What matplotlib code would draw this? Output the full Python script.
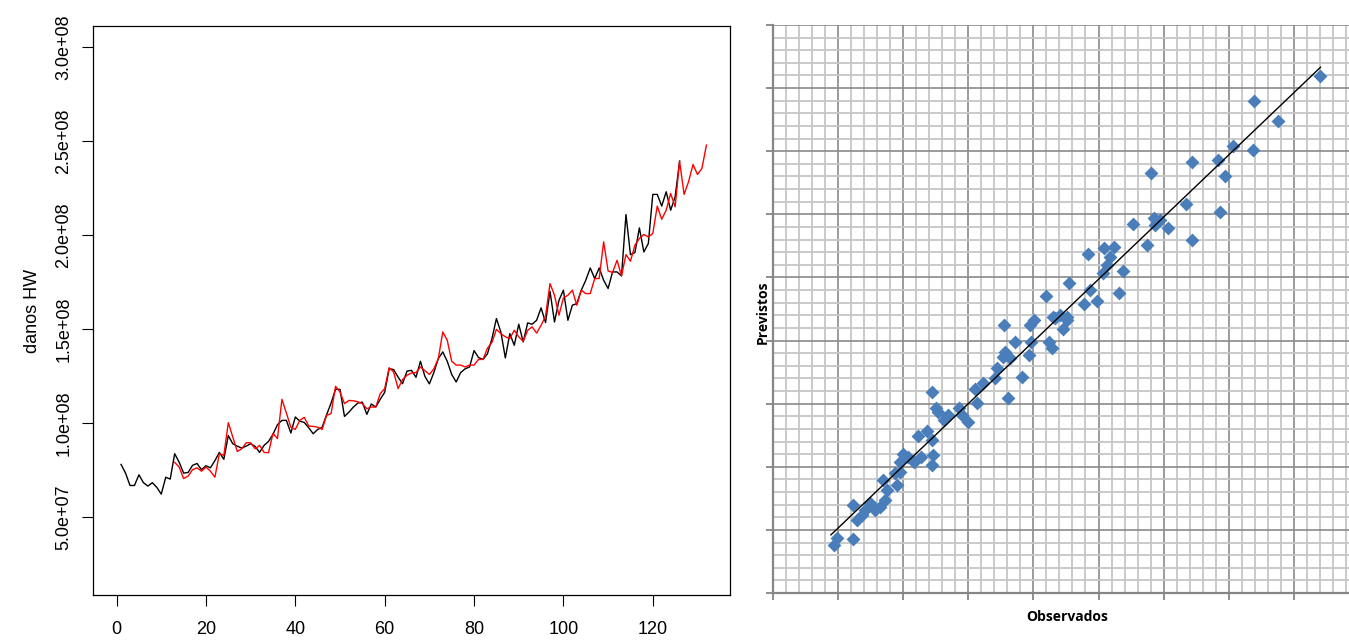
import numpy as np
import matplotlib.pyplot as plt

# serie observada (milhoes), t = 1..126
observado = [78.2, 73.6, 67, 67, 72.7, 68.5, 66.7, 68.5, 66, 62.4, 71.4, 70.4,
             83.9, 79.4, 73.6, 73.9, 77.7, 78.7, 75.4, 77.5, 76.4, 80.2, 84.6, 80.9,
             93.5, 89.2, 87.9, 86.9, 87.9, 89.2, 87.8, 84.6, 88.3, 90.4, 94.2, 99.3,
             101.6, 101.6, 94.9, 103.4, 101.2, 100.5, 97.7, 94.5, 96.8, 97.9, 104.6, 110.8,
             118.1, 118.1, 103.7, 106, 108.7, 110.8, 111.3, 104.8, 110.3, 108.7, 112.8, 116.5,
             129.1, 128.6, 124.6, 121.1, 127.8, 128.2, 124.5, 133, 125, 121, 127, 134.5,
             138, 133, 126, 122, 127, 129, 130, 138.7, 135, 134, 137, 145,
             155.7, 148.6, 134.8, 147.7, 141.5, 152.7, 143.3, 153.4, 152.7, 154.8, 161.4, 153.6,
             170.2, 153.9, 165.4, 170.8, 154.8, 162.8, 163.7, 170.8, 176.1, 182.6, 177, 182.6,
             176.1, 171.7, 180.5, 180.5, 178.4, 211, 189.7, 190.8, 203.9, 191.1, 195.6, 221.7,
             221.7, 215.5, 223.1, 213.3, 220.4, 239.4]

# ajuste Holt-Winters (milhoes), t = 13..132
ajuste_hw = [79.3, 76.8, 70.7, 72, 75.4, 76.4, 74.6, 76.8, 74.6, 71.4, 83.9, 83,
             100.4, 92.8, 85.1, 86.5, 89.7, 89.7, 86.5, 88.3, 84.6, 84.4, 94.7, 91.9,
             112.8, 105.5, 98, 96.8, 101.6, 103.2, 98.6, 98.4, 98, 96.8, 104.3, 105.2,
             119.7, 116.7, 110.5, 112.2, 112, 111.5, 110.5, 107.8, 108.7, 108.7, 115.8, 118.5,
             129.6, 127.3, 118.5, 123.3, 125.6, 126.8, 127, 130, 128, 126, 129, 134.4,
             148.6, 144.2, 133, 131, 131, 130, 131, 131, 134, 134, 140, 143,
             150, 147.7, 146, 145.1, 149.5, 146, 143.6, 149.5, 151.3, 148, 152.1, 157.1,
             174.3, 168.1, 157.5, 166.7, 168.1, 170.8, 162.8, 170.8, 169, 169, 177, 177,
             196.5, 181, 180.2, 186.7, 178.4, 189.7, 186.2, 194.7, 198.3, 200.4, 199.1, 200.9,
             215.5, 208.5, 213.3, 222.2, 215.1, 239.4, 221.7, 228.4, 237.6, 232.3, 235.5, 247.9]

x_ticks = [0, 20, 40, 60, 80, 100, 120]
y_ticks = [5e7, 1e8, 1.5e8, 2e8, 2.5e8, 3e8]

# dispersao observados x previstos (unidades de grade)
obs_x = [0.93, 0.99, 1.23, 1.23, 1.29, 1.36, 1.41, 1.49, 1.57, 1.64, 1.72, 1.69, 1.75, 1.90,
         1.87, 1.95, 2.00, 2.08, 2.16, 2.23, 2.28, 2.36, 2.44, 2.46, 2.44, 2.44, 2.51, 2.54,
         2.62, 2.69, 2.85, 2.90, 3.00, 3.13, 3.10, 3.23, 3.41, 3.44, 3.54, 3.55, 3.72, 3.56,
         3.64, 3.94, 3.96, 3.95, 4.01, 4.20, 4.24, 4.28, 4.33, 4.41, 4.46, 4.52, 4.55, 4.78,
         4.87, 4.98, 4.84, 5.08, 5.24, 5.18, 5.13, 5.07, 5.38, 5.32, 5.53, 5.75, 5.81, 5.85,
         5.94, 6.07, 6.35, 6.43, 6.44, 6.84, 6.95, 6.87, 7.06, 7.38, 7.39, 7.75, 8.41, 5.87,
         1.95, 4.30, 4.51, 3.61, 3.82]
prev_y = [0.76, 0.87, 0.85, 1.39, 1.16, 1.24, 1.32, 1.42, 1.32, 1.37, 1.47, 1.79, 1.63, 1.71,
          1.90, 2.08, 2.21, 2.16, 2.08, 2.48, 2.16, 2.56, 2.42, 2.19, 2.03, 3.19, 2.93, 2.87,
          2.74, 2.82, 2.93, 2.82, 2.71, 3.01, 3.24, 3.32, 3.40, 3.56, 3.74, 4.25, 3.98, 3.82,
          3.72, 3.77, 3.98, 4.25, 4.33, 4.71, 3.98, 3.88, 4.35, 4.41, 4.19, 4.33, 4.91, 4.58,
          4.80, 4.62, 5.37, 5.46, 5.49, 5.33, 5.20, 5.07, 5.10, 4.76, 5.84, 5.52, 6.65, 5.94,
          5.91, 5.78, 6.16, 6.83, 5.59, 6.86, 6.61, 6.03, 7.09, 7.02, 7.79, 7.48, 8.19, 5.83,
          1.92, 4.38, 4.38, 3.09, 3.42]

t_obs = np.arange(1, len(observado) + 1)
t_hw = np.arange(13, 13 + len(ajuste_hw))

fig = plt.figure(figsize=(13.49, 6.41), dpi=100)

# painel esquerdo, estilo R
ax1 = fig.add_axes([93/1349, 1 - 595/641, 637/1349, 569/641])
ax1.plot(t_obs, np.array(observado) * 1e6, color='black', lw=1.0)
ax1.plot(t_hw, np.array(ajuste_hw) * 1e6, color='red', lw=1.0)
ax1.set_xlim(-5.28, 137.28)
ax1.set_ylim(8.8e6, 3.112e8)
ax1.set_xticks(x_ticks)
ax1.set_xticklabels([str(v) for v in x_ticks], fontsize=13, family='Liberation Sans')
ax1.set_yticks(y_ticks)
ax1.set_yticklabels([f'{v:.1e}' for v in y_ticks], fontsize=13, family='Liberation Sans',
                    rotation=90, va='center')
ax1.tick_params(axis='x', length=8, width=0.8, pad=11)
ax1.tick_params(axis='y', length=8, width=0.8, pad=7)
for s in ax1.spines.values():
    s.set_linewidth(0.9)
ax1.set_ylabel('danos HW', fontsize=13, family='Liberation Sans', labelpad=10)

# painel direito, estilo Excel
ax2 = fig.add_axes([773/1349, 1 - 593/641, 576/1349, 568/641])
ax2.set_xlim(0, 576/65.1)
ax2.set_ylim(0, 9)
ax2.set_xticks(np.arange(0, 9))
ax2.set_yticks(np.arange(0, 10))
ax2.set_xticks(np.arange(0, 9, 0.2), minor=True)
ax2.set_yticks(np.arange(0, 9.01, 0.2), minor=True)
ax2.grid(which='minor', color='#c6c6c6', lw=1.3, zorder=0)
ax2.grid(which='major', color='#8a8a8a', lw=1.2, zorder=0.5)
ax2.set_axisbelow(True)
ax2.tick_params(which='minor', length=0)
ax2.tick_params(which='major', length=5, width=1.3, color='#868686',
                labelbottom=False, labelleft=False)
for side in ['top', 'right']:
    ax2.spines[side].set_visible(False)
for side in ['left', 'bottom']:
    ax2.spines[side].set_color('#868686')
    ax2.spines[side].set_linewidth(1.6)

ax2.scatter(obs_x, prev_y, marker='D', s=50, color='#4a7ebb', linewidths=0, zorder=3)
coef = np.polyfit(obs_x, prev_y, 1)
xl = np.array([min(obs_x) - 0.04, max(obs_x)])
ax2.plot(xl, np.polyval(coef, xl), color='black', lw=1.0, zorder=4)

ax2.set_xlabel('Observados', fontsize=10, fontweight='bold', family='Open Sans')
ax2.xaxis.set_label_coords((1067 - 773) / 576, -0.03)
ax2.set_ylabel('Previstos', fontsize=10, fontweight='bold', family='Open Sans')
ax2.yaxis.set_label_coords(-0.006, (593 - 312) / 568)

fig.savefig('out.png', dpi=100)
